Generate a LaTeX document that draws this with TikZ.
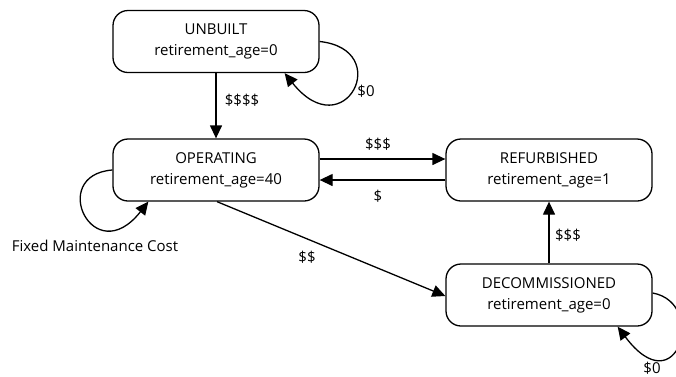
\documentclass[tikz,border=0pt]{standalone}
\usepackage{fontspec}
\setmainfont{Open Sans}
\usetikzlibrary{arrows.meta,calc}
\begin{document}
\begin{tikzpicture}[x=1pt,y=-1pt,
  state/.style={draw, line width=1.3pt, rounded corners=15pt, minimum width=206pt,
    minimum height=62pt, align=center, font=\fontsize{15}{21}\selectfont, inner sep=0pt},
  edge/.style={line width=1.3pt, -{Triangle[length=13pt,width=12pt]}},
  lbl/.style={font=\fontsize{15}{17}\selectfont, inner sep=0pt}]
\useasboundingbox (0,0) rectangle (676,376);
\clip (0,0) rectangle (676,376);
\node[state] (unbuilt) at (216,41.5) {UNBUILT\\retirement\_age=0};
\node[state] (operating) at (216,170) {OPERATING\\retirement\_age=40};
\node[state] (refurb) at (549,170) {REFURBISHED\\retirement\_age=1};
\node[state] (decom) at (549,295) {DECOMMISSIONED\\retirement\_age=0};

% transitions between states
\draw[edge] (unbuilt) -- (operating);
\draw[edge] ($(operating.east)+(0,-11)$) -- ($(refurb.west)+(0,-11)$);
\draw[edge] ($(refurb.west)+(0,10)$) -- ($(operating.east)+(0,10)$);
\draw[edge] ($(operating.south)+(1,0)$) -- ($(decom.west)+(0,1)$);
\draw[edge] (decom) -- (refurb);

% self loops
\draw[edge] (unbuilt.east) .. controls +(75,8) and +(60,75) .. ($(unbuilt.south east)+(-35,0)$);
\draw[edge] (operating.west) .. controls +(-65,5) and +(-55,70) .. ($(operating.south west)+(36,0)$);
\draw[edge] ($(decom.east)+(0,-2)$) .. controls +(55,10) and +(60,80) .. ($(decom.south east)+(-35,0)$);

% labels
\node[lbl] (l1) at (242,100) {\$\$\$\$};
\node[lbl] (l2) at (366,91) {\$0};
\node[lbl] (l3) at (378,144) {\$\$\$};
\node[lbl] (l4) at (378,196) {\$};
\node[lbl] (l5) at (568,235) {\$\$\$};
\node[lbl] (l6) at (307,257) {\$\$};
\node[lbl] (l7) at (652,368) {\$0};
\node[lbl] (l8) at (95,246) {Fixed Maintenance Cost};
\end{tikzpicture}
\end{document}
